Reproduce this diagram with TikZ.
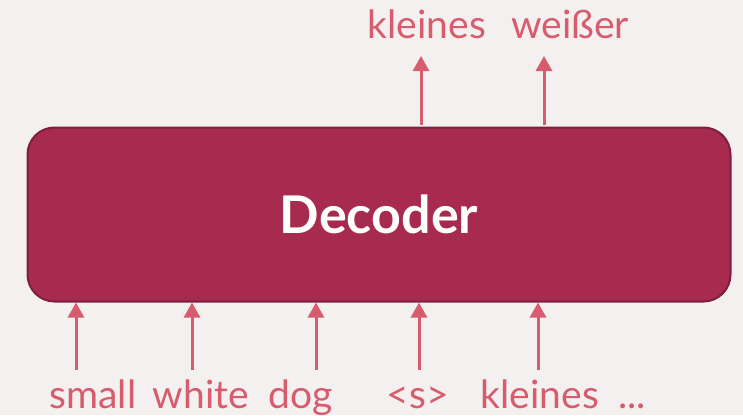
\documentclass[tikz,border=0pt]{standalone}
\usepackage{fontspec}
\setmainfont{Lato}
\usepackage{xcolor}
\usepackage{tikz}
\usetikzlibrary{arrows.meta,positioning,calc}
\definecolor{pagebg}{HTML}{F4F0EF}
\definecolor{decfill}{HTML}{A62B4F}
\definecolor{decline}{HTML}{7D2040}
\definecolor{tokcolor}{HTML}{D65C6E}
\tikzset{
  decblock/.style={draw=decline,line width=2pt,rounded corners=27pt,fill=decfill,minimum width=703pt,minimum height=174pt,inner sep=0pt,text=white,font=\fontsize{52}{58}\selectfont\bfseries},
  tokword/.style={anchor=base,inner sep=0pt,text=tokcolor,font=\fontsize{39}{45}\selectfont},
  tokflow/.style={-{Triangle[length=15pt,width=16pt]},line width=3pt,draw=tokcolor}
}

\begin{document}
\begin{tikzpicture}[x=1pt,y=-1pt]
  \fill[pagebg] (0,0) rectangle (743,415);
  \useasboundingbox (0,0) rectangle (743,415);
  \node[decblock] (dec) at (379,214.5) {Decoder};
  % inputs below the decoder
  \node[tokword] (w1) at (93,408) {small};
  \node[tokword] (w2) at (201,408) {white};
  \node[tokword] (w3) at (301,408) {dog};
  \node[tokword] (w4) at (418,408) {<s>};
  \node[tokword] (w5) at (540,408) {kleines};
  \node[tokword] (w6) at (632,408) {...};
  \coordinate (a1) at (76,370);
  \coordinate (a2) at (192,370);
  \coordinate (a3) at (316,370);
  \coordinate (a4) at (419,370);
  \coordinate (a5) at (538,370);
  \foreach \i in {1,...,5}
    \draw[tokflow] (a\i) -- (a\i |- dec.south);
  % outputs above the decoder
  \node[tokword] (o1) at (427,38) {kleines};
  \node[tokword] (o2) at (570,38) {weißer};
  \coordinate (b1) at (421,125);
  \coordinate (b2) at (544,125);
  \draw[tokflow] (b1) -- (b1 |- 0,56);
  \draw[tokflow] (b2) -- (b2 |- 0,56);
\end{tikzpicture}
\end{document}
